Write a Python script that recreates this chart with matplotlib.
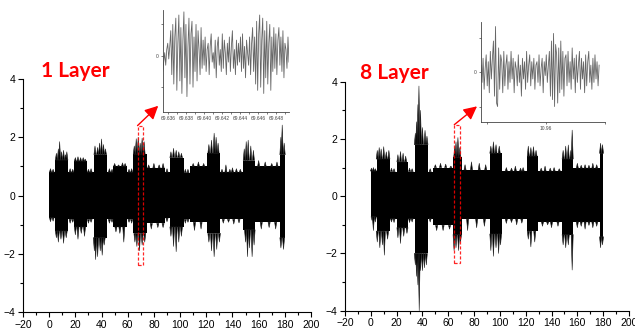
import matplotlib
matplotlib.use("Agg")
import matplotlib.pyplot as plt
import numpy as np
from matplotlib.patches import Rectangle
from matplotlib.collections import PolyCollection

# ---------------- data ----------------
# dense band segments: start, end, upper, lower
l1_start = [0, 4.6, 14.7, 19.3, 28.8, 33.9, 44.1, 49, 59.3, 64.4, 74.6, 88.6, 92.4, 102.6, 107.7, 120.4, 130.6, 148.4, 157.4, 176.4]
l1_end   = [4.6, 14.7, 19.3, 28.8, 33.9, 44.1, 49, 59.3, 64.4, 74.6, 88.6, 92.4, 102.6, 107.7, 120.4, 130.6, 148.4, 157.4, 176.4, 180.3]
l1_upper = [0.8, 1.22, 0.8, 1.18, 0.8, 1.4, 0.8, 1.0, 0.8, 1.42, 0.95, 0.8, 1.3, 0.78, 1.0, 1.45, 0.8, 1.2, 1.0, 1.4]
l1_lower = [-0.76, -1.22, -0.82, -1.08, -0.82, -1.45, -0.82, -1.08, -0.82, -1.3, -0.96, -0.78, -1.08, -0.82, -0.92, -1.3, -0.82, -1.18, -0.92, -1.45]

l1_top_x = [1, 3, 5.5, 7, 8, 9.5, 11, 12.5, 13.5, 16, 18, 20, 22, 24, 26, 27.5, 30, 32, 35, 37, 38.5, 40, 41.5, 43,
            46, 48, 50, 53, 56, 58, 61, 63,
            65, 66.5, 68, 69.5, 71, 72.5, 76, 80, 84, 87, 90, 93, 95, 97, 99, 101, 104, 106, 110, 114, 118,
            122, 124, 126, 127.5, 129, 132, 135, 138, 140, 143, 146, 149, 150.5, 152, 154, 156,
            160, 165, 170, 174, 177, 178, 179.5]
l1_top_v = [0.92, 0.9, 1.45, 1.6, 1.85, 1.5, 1.55, 1.4, 1.5, 0.92, 0.9, 1.3, 1.33, 1.3, 1.3, 1.25, 0.9, 0.92,
            1.7, 1.65, 1.8, 1.94, 1.75, 1.6, 0.92, 0.9, 1.1, 1.05, 1.12, 1.1, 0.9, 0.92,
            1.7, 1.95, 2.0, 1.8, 1.97, 1.85, 1.05, 1.1, 1.05, 1.1, 0.92, 1.5, 1.62, 1.55, 1.5, 1.45, 0.9, 0.9,
            1.1, 1.15, 1.1, 1.75, 1.9, 2.14, 2.0, 1.8, 0.9, 1.05, 0.9, 0.95, 0.92, 0.9,
            1.6, 1.85, 1.9, 1.7, 1.55, 1.2, 1.15, 1.1, 1.15, 2.0, 2.42, 1.8]
l1_bot_x = [1, 3, 5.5, 7, 9, 11, 13, 16, 18, 20, 22, 24.5, 27, 30, 32, 34.5, 35.5, 37, 39, 40.5, 42, 46, 48, 51, 54, 57, 61, 63,
            65.5, 67, 69, 71, 73, 78, 83, 87, 90, 93, 95, 97, 99, 101, 104, 106, 111, 116,
            122, 124, 126, 128, 130, 133, 137, 141, 145, 150, 151.5, 153, 155, 156.5, 162, 168, 173, 177, 179]
l1_bot_v = [-0.9, -0.88, -1.45, -1.6, -1.5, -1.64, -1.45, -0.95, -0.92, -1.35, -1.5, -1.3, -1.4, -0.95, -0.92,
            -1.9, -2.2, -2.1, -1.9, -2.05, -1.7, -0.95, -0.92, -1.25, -1.3, -1.6, -0.92, -0.95,
            -1.6, -1.75, -1.9, -1.7, -1.6, -1.15, -1.1, -1.1, -0.9, -1.4, -1.75, -1.93, -1.6, -1.4, -0.95, -0.92,
            -1.2, -1.15, -1.6, -1.9, -2.1, -1.85, -1.6, -0.95, -0.92, -0.98, -0.94,
            -1.6, -2.1, -1.8, -2.1, -1.7, -1.15, -1.1, -1.15, -1.8, -1.85]

l8_start = [0, 4.6, 14.9, 20, 29, 33.9, 44.5, 48.4, 63.9, 70.4, 92.3, 101.4, 120.8, 129.8, 147.9, 156.9, 177.6]
l8_end   = [4.6, 14.9, 20, 29, 33.9, 44.5, 48.4, 63.9, 70.4, 92.3, 101.4, 120.8, 129.8, 147.9, 156.9, 177.6, 180.2]
l8_upper = [0.88, 1.3, 0.86, 1.2, 0.86, 1.8, 0.86, 1.0, 1.36, 0.92, 1.5, 0.88, 1.4, 0.88, 1.3, 0.98, 1.5]
l8_lower = [-0.72, -1.22, -0.78, -1.1, -0.78, -2.0, -0.78, -1.02, -1.34, -0.8, -1.32, -0.8, -1.22, -0.9, -1.34, -0.9, -1.42]

l8_top_x = [0.5, 2, 3.5, 5, 6.5, 8, 10, 12, 14, 16, 18, 21, 23, 25, 27, 30, 32, 34.5, 35.5, 36.5, 37.3, 38.5, 40, 42, 43.5,
            46, 50, 54, 58, 62, 65, 66, 67.5, 69, 73, 78, 84, 89, 93, 95, 97, 99.5, 105, 109, 112, 116, 118,
            122, 124, 126, 128, 132, 135, 139, 142, 146, 149, 151, 153, 155, 156, 160, 163, 166, 169, 172, 175, 178, 179.5]
l8_top_v = [0.98, 1.0, 0.96, 1.6, 1.7, 1.65, 1.73, 1.55, 1.6, 0.98, 0.96, 1.45, 1.56, 1.5, 1.4, 0.98, 0.96,
            2.2, 2.6, 3.2, 3.85, 3.0, 2.4, 2.3, 2.1, 0.96,
            1.1, 1.15, 1.12, 1.05, 1.7, 1.9, 2.05, 1.7, 1.1, 1.2, 1.15, 1.1, 1.75, 1.9, 1.8, 1.75, 1.0, 0.98, 1.05, 0.98, 1.0,
            1.75, 1.7, 1.73, 1.6, 0.98, 1.05, 0.98, 1.0, 0.96, 1.6, 1.75, 1.79, 1.6, 2.31, 1.15, 1.08, 1.1, 1.08, 1.15, 1.1, 1.85, 1.8]
l8_bot_x = [1, 2, 3.5, 5, 7, 9, 10.5, 13, 16, 18, 21, 23, 25.5, 28, 30, 32, 34.5, 35.5, 36.5, 37.5, 38.5, 40, 41.5, 43, 46,
            51, 56, 61, 64.5, 66, 68, 69.5, 75, 82, 88, 93, 95, 97, 99, 100.5, 105, 109, 113, 117,
            122, 124, 127, 133, 137, 140, 145, 149, 151, 153, 156, 160, 163, 166, 169, 172, 175, 178, 179.5]
l8_bot_v = [-0.85, -1.2, -0.9, -1.6, -1.8, -1.7, -2.06, -1.5, -0.9, -0.92, -1.45, -1.65, -1.4, -1.3, -0.92, -0.9,
            -2.4, -2.8, -3.1, -4.0, -2.6, -2.6, -2.5, -2.4, -0.9,
            -1.2, -1.2, -1.15, -1.9, -1.8, -1.9, -1.6, -1.2, -1.1, -1.05, -1.9, -2.1, -1.8, -2.0, -1.7, -0.95, -0.92, -1.0, -0.94,
            -1.5, -1.77, -1.6, -1.05, -1.0, -1.1, -1.05, -1.7, -1.8, -1.7, -2.58, -1.1, -1.05, -1.15, -1.02, -1.1, -1.05, -1.8, -1.7]

# zoomed-in waveforms (insets)
inset1_vals = [-0.5, -0.2, 0.1, -0.3, 0.2, 0.4, -0.1, 0.3,
               0.8, -0.6, 1.0, -0.9, 0.6, 1.2, -1.1, 0.4, 1.3, -0.8, 0.9, -1.2, 0.5, 1.4, -0.7, 1.0, -1.3, 0.3,
               1.2, -0.9, 0.7, 1.1, -1.0, 0.6, -0.5, 1.0, -0.8, 0.8, 0.2, -0.6, 0.9, -0.4,
               0.5, -0.3, 0.6, -0.5, 0.2, 0.4, -0.6, 0.3, 0.7, -0.2, 0.1, -0.4, 0.5, -0.7, 0.3, 0.6, -0.3, 0.2,
               -0.5, 0.7, -0.4, 0.5, 0.1, -0.6, 0.4, -0.2, 0.6, -0.5, 0.3, 0.8, -0.4, 0.2, -0.6, 0.5, -0.3, 0.4,
               -0.2, 0.6, -0.5, 0.7, -0.4, 0.3, -0.7, 0.5, 0.1, -0.3, 0.6, -0.6, 0.4, 0.9, -0.5, 0.6,
               -0.9, 1.1, -1.1, 0.7, 1.3, -1.0, 0.5, 1.2, -1.2, 0.8, -0.7, 1.1, -0.9, 0.4, 1.0, -1.1, 0.6, -0.5, 0.9,
               -0.4, 0.7, -0.6, 0.5, 0.9, -0.3, 0.6, -0.5, 0.8, -0.7, 0.4, 0.2, -0.4, 0.6, -0.2]
inset1_xlim = [69.6354, 69.6494]
inset1_ticks = [69.636, 69.638, 69.640, 69.642, 69.644, 69.646, 69.648]

inset8_vals = [0.2, -0.3, 0.4, -0.5, 0.1, 0.5, -0.4, 0.3, -0.6, 0.6, -0.2, 0.4, 0.9, -0.7, 1.32, -0.9, -1.0, 0.7,
               -0.5, 0.5, 0.3, -0.6, 0.6, -0.4, 0.2, 0.5, -0.5, 0.3, -0.3, 0.6, -0.2, 0.4, -0.6, 0.3, 0.1, -0.4,
               0.5, -0.3, 0.2, -0.7, 0.4, -0.2, 0.3, -0.5, 0.6, -0.3, 0.2, 0.5, -0.4, 0.3, -0.2, 0.4, -0.5, 0.2,
               0.3, -0.3, 0.5, -0.4, 0.1, 0.4, -0.6, 0.3, -0.1, 0.5, -0.3, 0.2,
               0.6, -0.7, 0.9, -0.8, 1.12, -1.0, 0.8, 0.5, -0.9, 0.7, -0.6, 0.9, -0.5, 0.6, -0.7, 0.4,
               0.5, -0.4, 0.6, -0.3, 0.3, -0.5, 0.7, -0.2, 0.4, -0.6, 0.5, -0.3, 0.2, 0.6, -0.5, 0.4, -0.2,
               0.3, -0.6, 0.5, -0.4, 0.3, 0.6, -0.3, 0.2, -0.5, 0.4, -0.3, 0.5, -0.2, 0.3, -0.4, 0.2]
inset8_xlim = [10.9545, 10.9645]
inset8_ticks = [10.96]

labels = ["1 Layer", "8 Layer"]
x_ticks = list(range(-20, 201, 20))
y_ticks = [-4, -2, 0, 2, 4]
rect1 = [67.5, 72.0, -2.4, 2.4]
rect8 = [64.7, 69.1, -2.35, 2.5]

# ---------------- figure ----------------
RED = "#ff0000"
fig = plt.figure(figsize=(6.35, 3.36), dpi=100)
plt.rcParams['font.family'] = ['Liberation Sans', 'DejaVu Sans']

HALF = 0.8   # half base width of each drawn peak, in x units


def peaks(starts, ends, levels, sx, sv):
    """Each peak is drawn as a thin spike rising from the band level of its segment."""
    starts = np.asarray(starts)
    levels = np.asarray(levels)
    verts = []
    for x, v in zip(sx, sv):
        i = max(0, np.searchsorted(starts, x, side='right') - 1)
        lev = levels[i]
        verts.append([(x - HALF, lev), (x, v), (x + HALF, lev)])
    return verts


def main_axes(rect, starts, ends, ups, lows, tx, tv, bx, bv):
    ax = fig.add_axes(rect)
    widths = np.array(ends) - np.array(starts)
    heights = np.array(ups) - np.array(lows)
    ax.bar(starts, heights, width=widths, bottom=lows, align='edge', color='black', linewidth=0)
    pc = PolyCollection(peaks(starts, ends, ups, tx, tv) + peaks(starts, ends, lows, bx, bv),
                        facecolor='black', edgecolor='#222222', linewidth=0.4)
    ax.add_collection(pc)
    ax.set_xlim(-20, 200)
    ax.set_ylim(-4, 4)
    ax.set_xticks(x_ticks)
    ax.set_yticks(y_ticks)
    ax.set_xticks(np.arange(-10, 200, 20), minor=True)
    ax.set_yticks(np.arange(-3, 4, 2), minor=True)
    for s in ['top', 'right']:
        ax.spines[s].set_visible(False)
    for s in ['left', 'bottom']:
        ax.spines[s].set_linewidth(0.8)
    ax.tick_params(which='major', length=3.5, width=0.8, labelsize=7.5, pad=2)
    ax.tick_params(which='minor', length=2, width=0.8)
    return ax


ax1 = main_axes([0.0362, 0.0714, 0.4536, 0.6935], l1_start, l1_end, l1_upper, l1_lower,
                l1_top_x, l1_top_v, l1_bot_x, l1_bot_v)
ax8 = main_axes([0.5433, 0.0753, 0.4472, 0.6815], l8_start, l8_end, l8_upper, l8_lower,
                l8_top_x, l8_top_v, l8_bot_x, l8_bot_v)

for ax, r, tip in [(ax1, rect1, (83.3, 3.08)), (ax8, rect8, (82.3, 3.14))]:
    ax.add_patch(Rectangle((r[0], r[2]), r[1] - r[0], r[3] - r[2], fill=False,
                           edgecolor=RED, ls=(0, (2.5, 1.5)), lw=0.9, alpha=0.85, zorder=5))
    ax.annotate("", xy=tip, xytext=(r[0], r[3]), xycoords='data',
                arrowprops=dict(arrowstyle="-|>,head_length=0.8,head_width=0.4", color=RED, lw=1.0,
                                shrinkA=0, shrinkB=0), annotation_clip=False, zorder=6)

fig.text(41 / 635, 1 - 71 / 336, labels[0], color=RED, fontsize=15, fontweight='bold',
         family=['Lato', 'DejaVu Sans'], va='center', ha='left')
fig.text(360 / 635, 1 - 73 / 336, labels[1], color=RED, fontsize=15, fontweight='bold',
         family=['Lato', 'DejaVu Sans'], va='center', ha='left')


def inset(rect, vals, xlim, ticks, ylim, minor):
    ax = fig.add_axes(rect)
    x = np.linspace(xlim[0], xlim[1], len(vals))
    ax.plot(x, vals, color='#666666', lw=0.6)
    ax.set_xlim(xlim)
    ax.set_ylim(ylim)
    ax.set_xticks(ticks)
    ax.set_xticklabels([f"{t:g}" if len(ticks) == 1 else f"{t:.3f}" for t in ticks])
    if minor is not None:
        ax.set_xticks(minor, minor=True)
    ax.set_yticks([-1, 0, 1])
    ax.set_yticklabels(["", "0", ""])
    for s in ['top', 'right']:
        ax.spines[s].set_visible(False)
    for s in ['left', 'bottom']:
        ax.spines[s].set_linewidth(0.6)
        ax.spines[s].set_color('#444444')
    ax.tick_params(which='both', length=1.5, width=0.5, labelsize=3.5, pad=1.5, colors='#444444')
    ax.patch.set_alpha(0)
    return ax


inset([0.2562, 0.6676, 0.1989, 0.3027], inset1_vals, inset1_xlim, inset1_ticks, (-1.78, 1.46),
      np.arange(69.637, 69.6495, 0.002))
inset([0.7575, 0.6378, 0.1953, 0.2976], inset8_vals, inset8_xlim, inset8_ticks, (-1.44, 1.46),
      [10.955, 10.965])

fig.savefig("out.png", dpi=100)
